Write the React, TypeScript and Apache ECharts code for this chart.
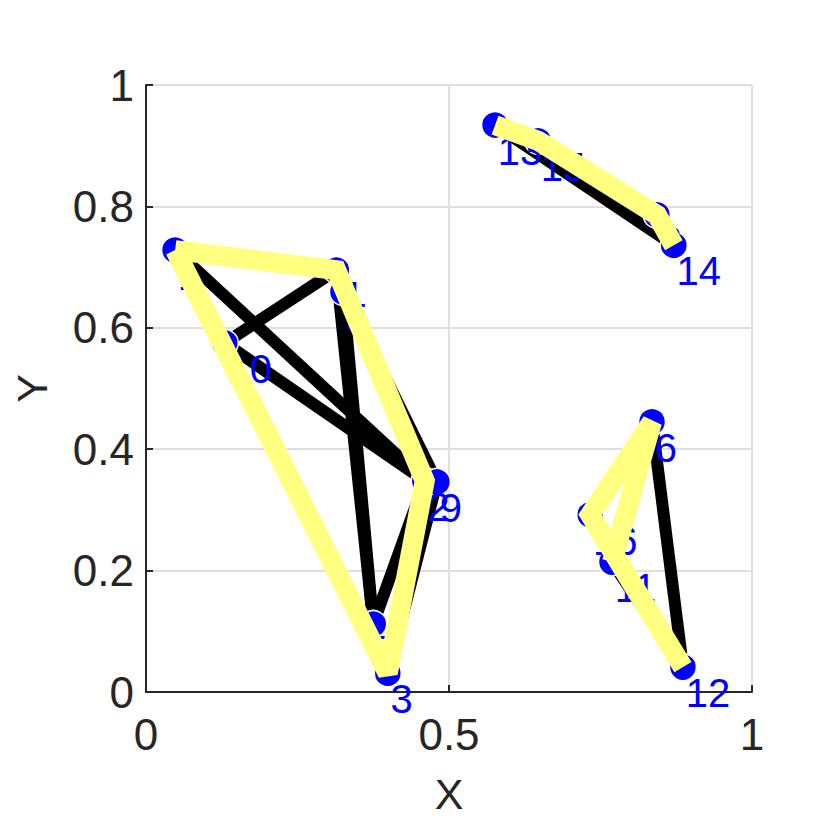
import React, { useEffect, useRef } from "react";
import * as echarts from "echarts";

// Node labels and positions (data coordinates)
const nodeLabels = ["1", "2", "3", "4", "5", "6", "7", "8", "9", "10", "11", "12", "13", "14", "15", "16"];
const nodeX = [0.048, 0.46, 0.399, 0.314, 0.325, 0.835, 0.375, 0.843, 0.48, 0.13, 0.769, 0.886, 0.576, 0.871, 0.647, 0.733];
const nodeY = [0.728, 0.348, 0.031, 0.695, 0.659, 0.445, 0.112, 0.786, 0.346, 0.575, 0.214, 0.041, 0.934, 0.736, 0.908, 0.292];

// Graph edges (1-based node ids)
const blackEdges: [number, number][] = [
  [1, 2], [10, 4], [10, 2], [4, 7], [5, 7], [2, 7], [5, 9], [9, 3], [1, 3], [1, 4], [4, 2], [2, 3],
  [13, 14], [13, 15], [15, 8], [8, 14],
  [6, 12], [11, 12], [16, 12], [6, 16], [6, 11],
];
// Highlighted paths (1-based node ids)
const yellowPaths: number[][] = [
  [1, 4, 2, 3, 1],
  [13, 15, 8, 14],
  [11, 6, 16, 12],
];

const xTicks = [0, 0.5, 1];
const yTicks = [0, 0.2, 0.4, 0.6, 0.8, 1];

const FONT = "'Liberation Sans', Arial, Helvetica, sans-serif";

export default function App() {
  const ref = useRef<HTMLDivElement>(null);
  useEffect(() => {
    if (!ref.current) return;
    const chart = echarts.init(ref.current, null, { renderer: "svg" });
    const pt = (id: number) => [nodeX[id - 1], nodeY[id - 1]];
    const option = {
      animation: false,
      backgroundColor: "#ffffff",
      grid: { left: 146, right: 78, top: 85, bottom: 138, containLabel: false },
      xAxis: {
        type: "value",
        min: xTicks[0],
        max: xTicks[xTicks.length - 1],
        interval: 0.5,
        name: "X",
        nameLocation: "middle",
        nameGap: 80,
        nameTextStyle: { fontSize: 43, color: "#262626", fontFamily: FONT },
        axisLine: { show: true, lineStyle: { color: "#262626", width: 2 } },
        axisTick: { show: true, inside: true, length: 7, lineStyle: { color: "#262626", width: 2 } },
        axisLabel: { fontSize: 44, color: "#262626", fontFamily: FONT, margin: 20, formatter: (v: number) => String(v) },
        splitLine: { show: true, lineStyle: { color: "#dfdfdf", width: 2 } },
      },
      yAxis: {
        type: "value",
        min: yTicks[0],
        max: yTicks[yTicks.length - 1],
        interval: 0.2,
        name: "Y",
        nameLocation: "middle",
        nameGap: 93,
        nameTextStyle: { fontSize: 43, color: "#262626", fontFamily: FONT },
        axisLine: { show: true, lineStyle: { color: "#262626", width: 2 } },
        axisTick: { show: true, inside: true, length: 7, lineStyle: { color: "#262626", width: 2 } },
        axisLabel: { fontSize: 44, color: "#262626", fontFamily: FONT, margin: 12, formatter: (v: number) => String(Math.round(v * 10) / 10) },
        splitLine: { show: true, lineStyle: { color: "#dfdfdf", width: 2 } },
      },
      series: [
        {
          type: "lines",
          coordinateSystem: "cartesian2d",
          z: 2,
          silent: true,
          lineStyle: { color: "#000000", width: 12, opacity: 1, cap: "butt" },
          data: blackEdges.map(([a, b]) => ({ coords: [pt(a), pt(b)] })),
        },
        {
          type: "scatter",
          z: 3,
          symbol: "circle",
          symbolSize: 27,
          itemStyle: { color: "#0000ff", borderColor: "#ffffff", borderWidth: 1.5, opacity: 1 },
          label: {
            show: true,
            formatter: (p: any) => p.name,
            position: [17, 40],
            align: "left",
            verticalAlign: "middle",
            fontSize: 40,
            color: "#0000ff",
            fontFamily: FONT,
          },
          data: nodeLabels.map((n, i) => ({ name: n, value: [nodeX[i], nodeY[i]] })),
        },
        {
          type: "lines",
          coordinateSystem: "cartesian2d",
          polyline: true,
          z: 4,
          silent: true,
          lineStyle: { color: "#ffff80", width: 20, opacity: 1, cap: "butt", join: "miter", miterLimit: 2 },
          data: yellowPaths.map((p) => ({ coords: p.map(pt) })),
        },
      ],
    };
    chart.setOption(option);
    return () => chart.dispose();
  }, []);
  return <div ref={ref} style={{ position: "absolute", left: 0, top: 0, width: 830, height: 830 }} />;
}
